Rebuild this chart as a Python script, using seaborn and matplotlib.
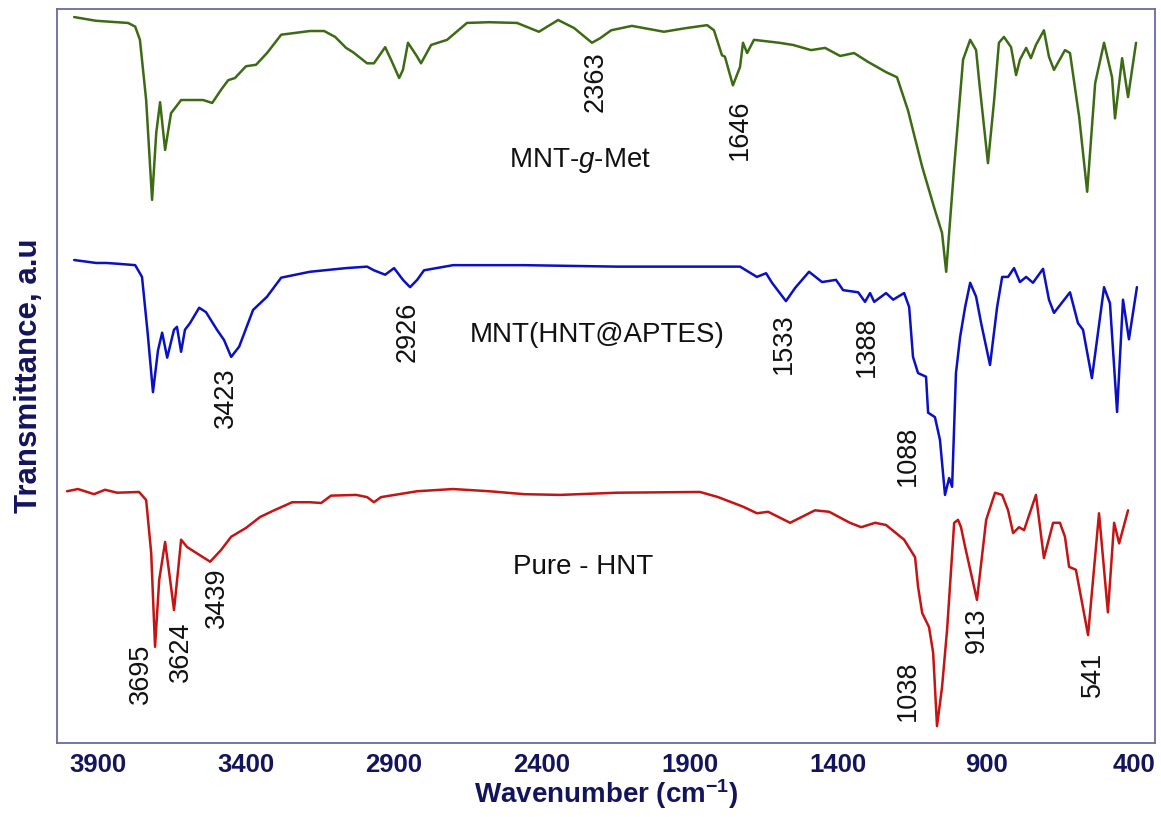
import matplotlib
matplotlib.use("Agg")
import matplotlib.pyplot as plt
import seaborn as sns
import pandas as pd

# ---------------- data (wavenumber in cm-1, transmittance in a.u., stacked) ----------------
met_wn = [3979, 3906, 3871, 3797, 3773, 3757, 3736, 3716, 3702, 3689, 3672, 3652, 3618, 3544,
          3513, 3483, 3459, 3436, 3399, 3365, 3328, 3280, 3183, 3135, 3098, 3061, 3037, 2990,
          2967, 2929, 2906, 2882, 2869, 2852, 2821, 2808, 2774, 2720, 2653, 2578, 2484, 2410,
          2345, 2291, 2231, 2204, 2166, 2096, 1988, 1913, 1842, 1819, 1792, 1782, 1755, 1731,
          1721, 1707, 1684, 1599, 1552, 1491, 1444, 1393, 1346, 1299, 1238, 1201, 1164, 1116,
          1073, 1049, 1035, 1008, 978, 954, 934, 924, 894, 873, 857, 840, 816, 799, 786, 765,
          749, 732, 705, 688, 671, 634, 617, 586, 559, 532, 502, 475, 465, 441, 421, 394]
met_t = [98.9, 98.4, 98.3, 98.1, 97.6, 95.8, 87.6, 74.0, 83.1, 87.3, 80.8, 85.8, 87.6, 87.6,
         87.2, 89.0, 90.3, 90.6, 92.2, 92.4, 94.0, 96.5, 97.0, 97.0, 96.2, 94.7, 94.1, 92.6,
         92.6, 94.8, 92.8, 90.6, 91.7, 95.4, 93.5, 92.6, 95.1, 95.8, 98.1, 98.2, 98.1, 96.9,
         98.5, 97.4, 95.4, 96.0, 97.1, 97.7, 96.9, 97.4, 97.8, 97.1, 93.7, 93.5, 89.6, 92.1,
         95.4, 94.0, 95.8, 95.4, 95.1, 94.4, 94.7, 93.6, 94.0, 92.8, 91.4, 90.7, 86.2, 78.5,
         72.6, 69.5, 64.2, 78.5, 93.1, 95.8, 94.4, 90.3, 79.0, 87.6, 95.4, 96.2, 94.8, 91.0,
         93.1, 94.7, 93.3, 95.1, 97.1, 93.5, 91.7, 94.4, 94.0, 85.3, 75.1, 89.9, 95.4, 90.7,
         85.1, 93.3, 88.0, 95.4]

apt_wn = [3979, 3905, 3871, 3834, 3773, 3750, 3731, 3713, 3696, 3682, 3665, 3642, 3632, 3618,
          3605, 3588, 3557, 3534, 3497, 3473, 3449, 3422, 3375, 3328, 3280, 3183, 3061, 2990,
          2967, 2929, 2899, 2869, 2845, 2821, 2798, 2700, 2460, 2146, 1731, 1674, 1643, 1623,
          1576, 1545, 1498, 1454, 1407, 1383, 1332, 1309, 1292, 1278, 1238, 1214, 1177, 1160,
          1147, 1130, 1103, 1096, 1073, 1056, 1039, 1025, 1015, 1002, 988, 971, 954, 934, 917,
          887, 863, 846, 826, 806, 786, 765, 742, 708, 688, 671, 617, 590, 573, 543, 502, 482,
          458, 438, 418, 391]
apt_t = [65.8, 65.4, 65.4, 65.3, 65.1, 63.5, 55.9, 47.8, 53.5, 55.9, 52.5, 56.3, 56.7, 53.3,
         56.3, 57.2, 59.3, 58.7, 56.3, 54.9, 52.6, 54.0, 59.0, 60.8, 63.4, 64.2, 64.7, 64.9,
         64.4, 63.8, 64.7, 63.1, 62.1, 63.1, 64.4, 65.1, 65.1, 64.9, 64.9, 63.5, 64.0, 62.7,
         60.2, 62.0, 64.2, 62.8, 63.1, 61.7, 61.4, 60.1, 61.3, 60.1, 61.3, 60.4, 61.3, 59.4,
         52.6, 50.4, 49.9, 45.0, 44.4, 41.3, 33.8, 36.1, 34.9, 50.4, 55.3, 59.4, 62.7, 60.8,
         57.2, 51.5, 59.4, 63.5, 63.5, 64.7, 62.8, 63.5, 62.7, 64.6, 60.4, 58.6, 61.4, 57.2,
         56.3, 49.7, 62.1, 59.9, 45.1, 60.4, 55.0, 62.1]

hnt_wn = [4003, 3966, 3912, 3875, 3834, 3760, 3736, 3719, 3706, 3692, 3672, 3655, 3642, 3628,
          3618, 3598, 3567, 3520, 3483, 3449, 3399, 3351, 3304, 3243, 3183, 3145, 3112, 3027,
          2990, 2967, 2943, 2821, 2700, 2578, 2460, 2339, 2146, 1866, 1805, 1721, 1674, 1636,
          1562, 1478, 1430, 1360, 1322, 1275, 1238, 1177, 1140, 1130, 1116, 1093, 1079, 1066,
          1049, 1032, 1008, 995, 985, 971, 931, 900, 870, 846, 826, 809, 789, 772, 732, 705,
          674, 651, 634, 620, 597, 556, 519, 489, 468, 451, 421]
hnt_t = [34.3, 34.6, 33.9, 34.5, 34.1, 34.2, 33.1, 25.9, 13.1, 22.2, 27.4, 22.2, 18.1, 23.6,
         27.7, 26.7, 25.9, 24.7, 26.3, 28.1, 29.3, 30.8, 31.7, 32.8, 32.8, 32.7, 33.7, 33.8,
         33.5, 32.8, 33.5, 34.3, 34.6, 34.3, 33.9, 33.8, 34.1, 34.2, 33.5, 32.2, 31.3, 31.5,
         30.0, 31.7, 31.5, 30.0, 29.4, 30.0, 29.7, 27.7, 25.3, 21.3, 17.7, 15.8, 12.3, 2.3,
         7.6, 15.4, 30.0, 30.4, 29.4, 26.7, 19.5, 30.4, 34.1, 33.8, 31.7, 28.6, 29.4, 29.0,
         33.8, 25.2, 30.0, 30.0, 28.1, 24.0, 23.6, 14.7, 31.3, 17.8, 30.0, 27.2, 31.7]

series_names = ["MNT-g-Met", "MNT(HNT@APTES)", "Pure - HNT"]

# peak annotations: label text, wavenumber position, transmittance position
peak_labels = ["2363", "1646", "3423", "2926", "1533", "1388", "1088",
               "3695", "3624", "3439", "1038", "913", "541"]
peak_wn = [2217, 1731, 3466, 2852, 1582, 1302, 1164, 3753, 3618, 3497, 1164, 931, 539]
peak_t = [90.1, 83.5, 47.1, 56.0, 54.4, 54.0, 39.1, 9.4, 12.4, 19.8, 7.1, 15.4, 9.3]

name_labels = [r"MNT-$\it{g}$-Met", "MNT(HNT@APTES)", "Pure - HNT"]
name_wn = [2271, 2214, 2261]
name_t = [79.4, 55.6, 24.0]

x_ticks = [3900, 3400, 2900, 2400, 1900, 1400, 900, 400]

# ---------------- styling ----------------
sns.set_theme(style="white")
plt.rcParams["font.family"] = ["Liberation Sans", "DejaVu Sans"]
plt.rcParams["mathtext.fontset"] = "custom"
plt.rcParams["mathtext.rm"] = "Liberation Sans"
plt.rcParams["mathtext.it"] = "Liberation Sans:italic"
plt.rcParams["mathtext.bf"] = "Liberation Sans:bold"

navy = "#14145e"
frame = "#6a6aa6"
colors = {"MNT-g-Met": "#3c6b14", "MNT(HNT@APTES)": "#0a10c4", "Pure - HNT": "#c41414"}

df = pd.concat([
    pd.DataFrame({"wn": met_wn, "t": met_t, "sample": series_names[0]}),
    pd.DataFrame({"wn": apt_wn, "t": apt_t, "sample": series_names[1]}),
    pd.DataFrame({"wn": hnt_wn, "t": hnt_t, "sample": series_names[2]}),
], ignore_index=True)

fig = plt.figure(figsize=(11.61, 8.17), dpi=100)
ax = fig.add_axes([57 / 1161, 74 / 817, (1155 - 57) / 1161, (743 - 9) / 817])

sns.lineplot(data=df, x="wn", y="t", hue="sample", palette=colors, estimator=None,
             sort=False, linewidth=1.8, legend=False, ax=ax,
             solid_joinstyle="round", solid_capstyle="round")

ax.set_xlim(4037, 330)
ax.set_ylim(0, 100)
ax.set_xticks(x_ticks)
ax.set_xticklabels([str(v) for v in x_ticks])
ax.set_yticks([])
ax.tick_params(axis="x", length=0, pad=7, labelsize=18.5, labelcolor=navy)
for lab in ax.get_xticklabels():
    lab.set_fontweight("bold")

for s in ax.spines.values():
    s.set_visible(True)
    s.set_color(frame)
    s.set_linewidth(1.3)

ax.set_xlabel(r"Wavenumber (cm$^{\mathbf{-1}}$)", fontsize=20, fontweight="bold",
              color=navy, labelpad=0)
ax.set_ylabel("Transmittance, a.u", fontsize=22.5, fontweight="bold", color=navy, labelpad=9)

for txt, x, y in zip(peak_labels, peak_wn, peak_t):
    ax.text(x, y, txt, rotation=90, ha="center", va="center", fontsize=19.5, color="#111111")

for txt, x, y in zip(name_labels, name_wn, name_t):
    ax.text(x, y, txt, ha="center", va="center", fontsize=20, color="#111111")

fig.savefig("out.png", dpi=100)
